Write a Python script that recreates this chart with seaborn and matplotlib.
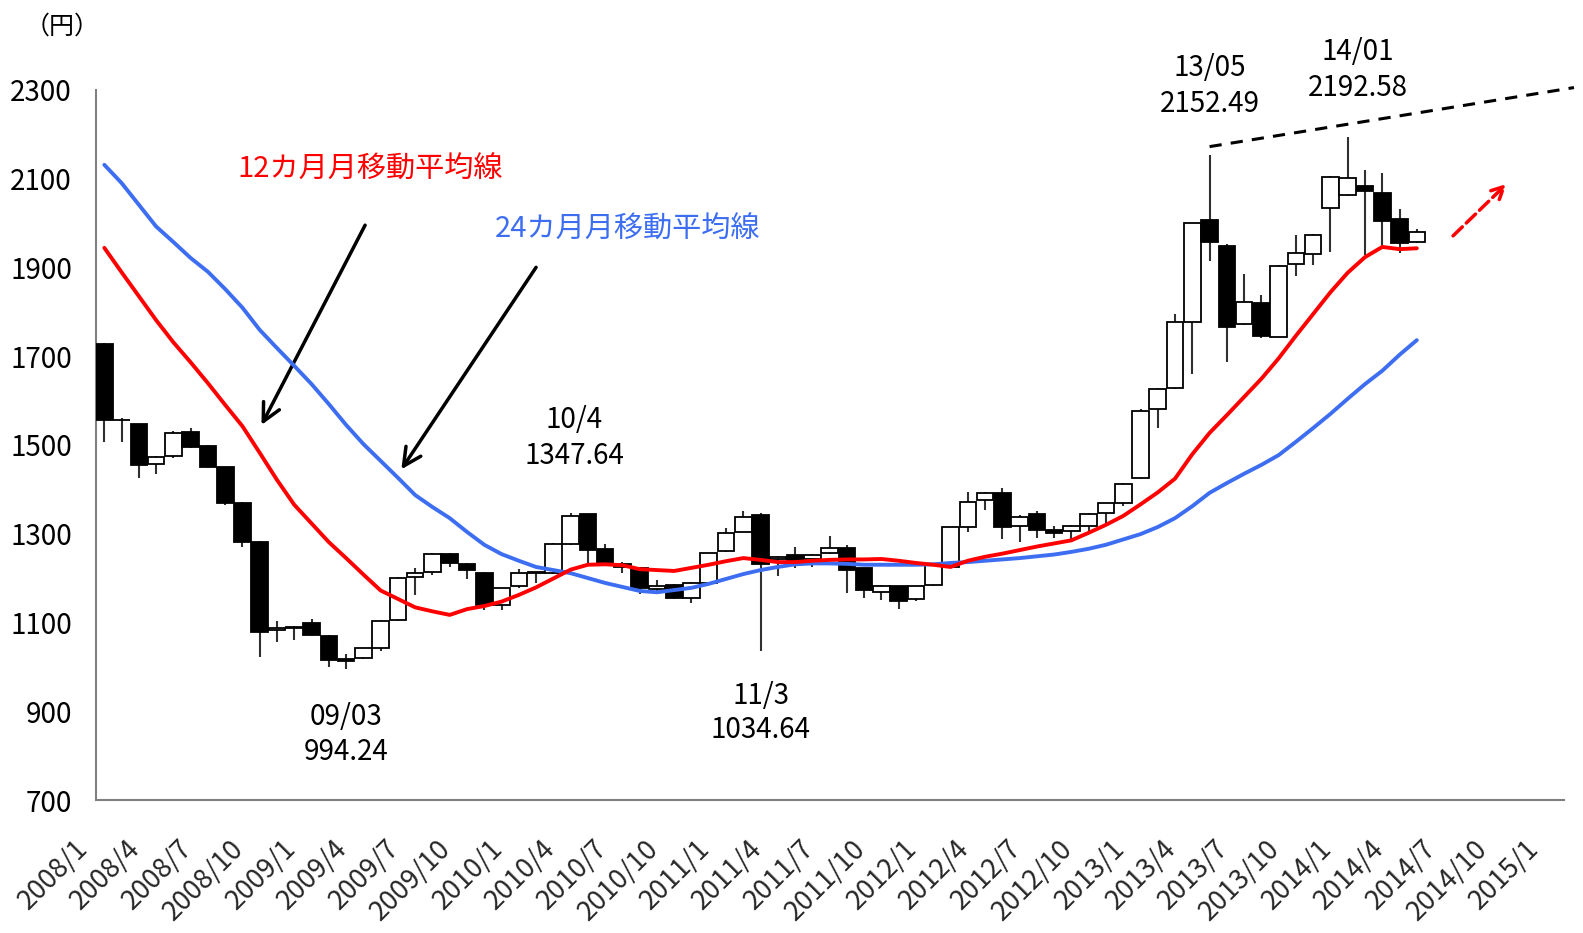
import matplotlib
matplotlib.use("Agg")
import matplotlib.pyplot as plt
from matplotlib.transforms import ScaledTranslation
import seaborn as sns
import numpy as np

# ---------------- data (monthly, 2008/1 .. 2014/5) ----------------
open_ = [1727, 1557, 1546, 1457, 1475, 1530, 1498, 1450, 1370, 1282,
         1082, 1090, 1098, 1070, 1018, 1019, 1042, 1105, 1202, 1214,
         1254, 1232, 1212, 1139, 1181, 1211, 1212, 1276, 1344, 1265,
         1232, 1222, 1175, 1184, 1154, 1190, 1261, 1304, 1342, 1244,
         1252, 1243, 1256, 1267, 1222, 1169, 1181, 1152, 1184, 1226,
         1314, 1376, 1392, 1318, 1344, 1308, 1306, 1318, 1347, 1370,
         1425, 1580, 1629, 1778, 2007, 1948, 1772, 1820, 1744, 1907,
         1930, 2033, 2063, 2084, 2068, 2009, 1956]
high = [1730, 1560, 1548, 1475, 1532, 1539, 1499, 1451, 1372, 1284,
        1104, 1091, 1107, 1071, 1028, 1043, 1105, 1202, 1222, 1257,
        1256, 1233, 1214, 1178, 1220, 1214, 1280, 1347.64, 1345, 1277,
        1237, 1224, 1196, 1186, 1192, 1257, 1313, 1351, 1346, 1250,
        1269, 1254, 1295, 1274, 1223, 1184, 1182, 1182, 1232, 1316,
        1395, 1393, 1402, 1342, 1351, 1318, 1319, 1346, 1370, 1415,
        1582, 1629, 1796, 2000, 2152.49, 1952, 1885, 1838, 1905, 1973,
        1976, 2106, 2192.58, 2120, 2113, 2031, 1986]
low = [1507, 1507, 1425, 1434, 1470, 1492, 1447, 1365, 1269, 1023,
       1057, 1060, 1069, 1000, 994.24, 1017, 1036, 1104, 1162, 1208,
       1226, 1197, 1128, 1128, 1178, 1190, 1210, 1274, 1233, 1233,
       1211, 1164, 1169, 1152, 1143, 1189, 1259, 1303, 1034.64, 1205,
       1222, 1224, 1254, 1166, 1154, 1151, 1130, 1149, 1183, 1224,
       1304, 1353, 1287, 1282, 1290, 1290, 1289, 1304, 1323, 1363,
       1423, 1537, 1627, 1659, 1914, 1686, 1770, 1740, 1742, 1880,
       1905, 1935, 2061, 1928, 1947, 1933, 1955]
close = [1556, 1555, 1455, 1473, 1527, 1496, 1451, 1370, 1281, 1079,
         1087, 1088, 1072, 1015, 1014, 1042, 1103, 1201, 1211, 1254,
         1233, 1218, 1139, 1177, 1211, 1213, 1276, 1340, 1263, 1235,
         1226, 1177, 1183, 1156, 1190, 1256, 1302, 1337, 1232, 1248,
         1239, 1252, 1267, 1219, 1172, 1182, 1149, 1181, 1231, 1314,
         1371, 1391, 1314, 1337, 1308, 1302, 1317, 1344, 1368, 1413,
         1576, 1627, 1778, 1999, 1958, 1765, 1823, 1746, 1903, 1932,
         1974, 2104, 2102, 2073, 2004, 1954, 1979]
ma12 = [1944, 1889, 1835, 1781, 1731, 1686, 1639, 1590, 1542, 1482,
        1421, 1365, 1323, 1281, 1245, 1208, 1172, 1153, 1134, 1125,
        1117, 1130, 1137, 1147, 1162, 1179, 1199, 1219, 1230, 1231,
        1229, 1220, 1218, 1216, 1223, 1230, 1238, 1245, 1241, 1236,
        1236, 1239, 1241, 1242, 1242, 1243, 1239, 1234, 1230, 1225,
        1239, 1248, 1255, 1263, 1271, 1278, 1285, 1302, 1320, 1340,
        1366, 1393, 1424, 1479, 1527, 1567, 1608, 1649, 1695, 1746,
        1795, 1844, 1888, 1923, 1946, 1941, 1943]
ma24 = [2131, 2090, 2041, 1992, 1957, 1921, 1890, 1851, 1809, 1759,
        1718, 1678, 1637, 1592, 1545, 1502, 1464, 1426, 1387, 1360,
        1335, 1304, 1275, 1254, 1239, 1225, 1218, 1211, 1200, 1189,
        1180, 1171, 1168, 1173, 1178, 1187, 1198, 1209, 1218, 1225,
        1231, 1233, 1233, 1232, 1230, 1230, 1230, 1230, 1231, 1234,
        1236, 1239, 1242, 1245, 1249, 1253, 1259, 1266, 1275, 1287,
        1299, 1315, 1335, 1362, 1392, 1414, 1435, 1455, 1477, 1507,
        1538, 1570, 1604, 1637, 1667, 1703, 1736]
tick_labels = ['2008/1', '2008/4', '2008/7', '2008/10', '2009/1', '2009/4',
               '2009/7', '2009/10', '2010/1', '2010/4', '2010/7', '2010/10',
               '2011/1', '2011/4', '2011/7', '2011/10', '2012/1', '2012/4',
               '2012/7', '2012/10', '2013/1', '2013/4', '2013/7', '2013/10',
               '2014/1', '2014/4', '2014/7', '2014/10', '2015/1']
y_ticks = [700, 900, 1100, 1300, 1500, 1700, 1900, 2100, 2300]

# ---------------- style ----------------
sns.set_theme(style="white")
JP = ['Noto Sans CJK JP', 'DejaVu Sans']
plt.rcParams['font.family'] = JP

RED = '#FF0000'
BLUE = '#3D6EF2'
GRAY = '#808080'

fig = plt.figure(figsize=(15.83, 9.33), dpi=100)
ax = fig.add_axes([0.06045, 0.14255, 0.9273, 0.7612])

n = len(open_)
xs = np.arange(n)
o = np.array(open_, float)
c = np.array(close, float)
up = c >= o
bottoms = np.minimum(o, c)
heights = np.abs(c - o)

# wicks
ax.vlines(xs, low, high, color='#303030', linewidth=1.5, zorder=2)
# bodies
ax.bar(xs, heights, bottom=bottoms, width=0.96,
       color=['white' if u else 'black' for u in up],
       edgecolor='black', linewidth=1.3, zorder=3)

# moving averages
sns.lineplot(x=xs, y=ma24, ax=ax, color=BLUE, linewidth=2.8, zorder=4)
sns.lineplot(x=xs, y=ma12, ax=ax, color=RED, linewidth=2.8, zorder=5)

ax.set_xlim(-0.5, 84.5)
ax.set_ylim(700, 2300)

for s in ['top', 'right']:
    ax.spines[s].set_visible(False)
for s in ['left', 'bottom']:
    ax.spines[s].set_color(GRAY)
    ax.spines[s].set_linewidth(1.5)

ax.set_yticks(y_ticks)
ax.set_yticklabels([str(v) for v in y_ticks], fontsize=20)
ax.tick_params(axis='y', direction='in', length=7, width=1.3, color=GRAY,
               pad=17, labelcolor='black')

ax.set_xticks(np.arange(0, 85, 3))
ax.set_xticklabels(tick_labels, fontsize=19.5, rotation=45, ha='right',
                   va='center', rotation_mode='anchor')
ax.tick_params(axis='x', which='major', length=0, pad=32)
ax.set_xticks(np.arange(9.5, 80, 10), minor=True)
ax.tick_params(axis='x', which='minor', direction='in', length=7,
               width=1.3, color=GRAY)
shift = ScaledTranslation(-0.2, 0, fig.dpi_scale_trans)
for lbl in ax.get_xticklabels():
    lbl.set_transform(lbl.get_transform() + shift)
ax.set_xlabel('')
ax.set_ylabel('')
ax.grid(False)

# unit label
fig.text(62 / 1583, 1 - 27 / 933, '（円）', fontsize=18, ha='center',
         va='center', color='black')

# annotations
def note(x, y, s, **kw):
    ax.text(x, y, s, ha='center', va='center', fontsize=20, clip_on=False,
            color='black', **kw)

note(14, 888, '09/03')
note(14, 809, '994.24')
note(27.2, 1556, '10/4')
note(27.2, 1475, '1347.64')
note(38, 934, '11/3')
note(38, 858, '1034.64')
note(64, 2348, '13/05')
note(64, 2268, '2152.49')
note(72.6, 2386, '14/01')
note(72.6, 2305, '2192.58')

ax.text(15.4, 2120, '12カ月月移動平均線', color=RED, fontsize=21,
        ha='center', va='center')
ax.text(30.3, 1984, '24カ月月移動平均線', color=BLUE, fontsize=21,
        ha='center', va='center')

# black arrows
ax.annotate('', xy=(9.1, 1545), xytext=(15.1, 1995),
            arrowprops=dict(arrowstyle='->', color='black', lw=2.5,
                            mutation_scale=32, shrinkA=0, shrinkB=0))
ax.annotate('', xy=(17.2, 1445), xytext=(25.0, 1900),
            arrowprops=dict(arrowstyle='->', color='black', lw=2.5,
                            mutation_scale=32, shrinkA=0, shrinkB=0))

# dashed trend line
ax.plot([64.0, 85.1], [2172, 2305], color='black', lw=2.2,
        linestyle=(0, (4, 3)), clip_on=False, zorder=6)

# red dashed arrow
ax.annotate('', xy=(81.2, 2088), xytext=(78.1, 1971),
            arrowprops=dict(arrowstyle='->', color=RED, lw=2.5,
                            linestyle='--', mutation_scale=22,
                            shrinkA=0, shrinkB=0))

fig.savefig('out.png', dpi=100)
